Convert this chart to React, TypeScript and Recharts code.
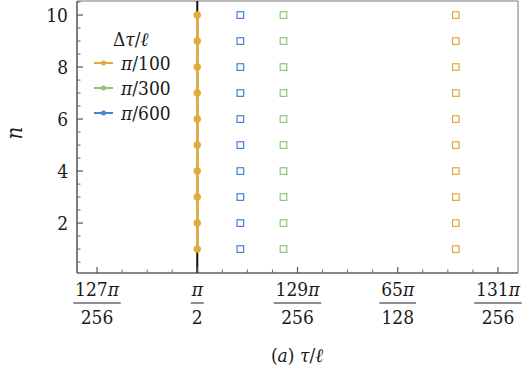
import React from 'react'
import { ScatterChart, Scatter, XAxis, YAxis, ReferenceArea } from 'recharts'

// x values are tau/l in units of pi/256
const nValues = [1, 2, 3, 4, 5, 6, 7, 8, 9, 10]
const tauExact = [128, 128, 128, 128, 128, 128, 128, 128, 128, 128]
const tauBlue = [128.43, 128.43, 128.43, 128.43, 128.43, 128.43, 128.43, 128.43, 128.43, 128.43]
const tauGreen = [128.86, 128.86, 128.86, 128.86, 128.86, 128.86, 128.86, 128.86, 128.86, 128.86]
const tauOrange = [130.58, 130.58, 130.58, 130.58, 130.58, 130.58, 130.58, 130.58, 130.58, 130.58]

const xMajor = [127, 128, 129, 130, 131]
const xMinor = [127.25, 127.5, 127.75, 128.25, 128.5, 128.75, 129.25, 129.5, 129.75, 130.25, 130.5, 130.75]
const xNumerators = ['127', '', '129', '65', '131']
const xDenominators = ['256', '2', '256', '128', '256']
const yMajor = [2, 4, 6, 8, 10]
const yMinor = [0.5, 1, 1.5, 2.5, 3, 3.5, 4.5, 5, 5.5, 6.5, 7, 7.5, 8.5, 9, 9.5, 10.5]

const legendItems = [
  { label: '100', color: '#E2AA3B' },
  { label: '300', color: '#8CC47A' },
  { label: '600', color: '#4A80D2' },
]

const X_DOMAIN = [126.8, 131.2]
const Y_DOMAIN = [0.08, 10.54]

const ORANGE = '#E2AA3B'
const GREEN = '#8CC47A'
const BLUE = '#4A80D2'
const txt: React.CSSProperties = { fontFamily: "'DejaVu Serif Condensed', 'DejaVu Serif', serif", fontSize: 19, fill: '#1a1a1a' }

const exactData = nValues.map((n, i) => ({ x: tauExact[i], y: n }))
const blueData = nValues.map((n, i) => ({ x: tauBlue[i], y: n }))
const greenData = nValues.map((n, i) => ({ x: tauGreen[i], y: n }))
const orangeData = nValues.map((n, i) => ({ x: tauOrange[i], y: n }))
const markerLine = [{ x: 128, y: Y_DOMAIN[0] }, { x: 128, y: Y_DOMAIN[1] }]

const square = (color: string) => (props: any) => (
  <rect x={props.cx - 3.3} y={props.cy - 3.3} width={6.6} height={6.6} fill="none" stroke={color} strokeWidth={1.2} />
)

const XTick = (props: any) => {
  const { x, y, payload } = props
  const idx = xMajor.indexOf(payload.value)
  if (idx < 0) return <line x1={x} x2={x} y1={y} y2={y - 3.5} stroke="#666" strokeWidth={1} />
  const num = xNumerators[idx]
  const den = xDenominators[idx]
  const numW = num.length * 10.8 + 11
  const denW = den.length * 10.8
  const m = Math.max(numW, denW)
  const w = m + (m > 12 ? 4 : 2)
  return (
    <g>
      <line x1={x} x2={x} y1={y} y2={y - 6} stroke="#555" strokeWidth={1.2} />
      <text x={x} y={y + 23} textAnchor="middle" style={txt}>
        {num}<tspan fontStyle="italic">π</tspan>
      </text>
      <line x1={x - w / 2} x2={x + w / 2} y1={y + 30} y2={y + 30} stroke="#1a1a1a" strokeWidth={1} />
      <text x={x} y={y + 51} textAnchor="middle" style={txt}>{den}</text>
    </g>
  )
}

const YTick = (props: any) => {
  const { x, y, payload } = props
  if (yMajor.indexOf(payload.value) < 0) return <line x1={x} x2={x + 3.5} y1={y} y2={y} stroke="#666" strokeWidth={1} />
  return (
    <g>
      <line x1={x} x2={x + 6} y1={y} y2={y} stroke="#555" strokeWidth={1.2} />
      <text x={x - 9} y={y + 7} textAnchor="end" style={txt}>{payload.value}</text>
    </g>
  )
}

const App = () => {
  return (
    <div style={{ position: 'absolute', left: 0, top: 0, width: 532, height: 376 }}>
      <ScatterChart width={532} height={376} margin={{ top: 1, right: 14, bottom: 0, left: 0 }}>
        <XAxis type="number" dataKey="x" domain={X_DOMAIN} allowDataOverflow
          ticks={[...xMajor, ...xMinor]} interval={0} tick={<XTick />} tickLine={false}
          tickSize={0} tickMargin={0} height={103} axisLine={{ stroke: '#555', strokeWidth: 1.2 }} />
        <YAxis type="number" dataKey="y" domain={Y_DOMAIN} allowDataOverflow
          ticks={[...yMajor, ...yMinor]} interval={0} tick={<YTick />} tickLine={false}
          tickSize={0} tickMargin={0} width={77} axisLine={{ stroke: '#555', strokeWidth: 1.2 }} />
        <ReferenceArea x1={X_DOMAIN[0]} x2={X_DOMAIN[1]} y1={Y_DOMAIN[0]} y2={Y_DOMAIN[1]}
          fill="none" stroke="#777" strokeWidth={1} ifOverflow="visible" />
        <Scatter data={markerLine} line={{ stroke: '#111', strokeWidth: 2 }} shape={() => null} isAnimationActive={false} />
        <Scatter data={blueData} shape={square(BLUE)} isAnimationActive={false} />
        <Scatter data={greenData} shape={square(GREEN)} isAnimationActive={false} />
        <Scatter data={orangeData} shape={square(ORANGE)} isAnimationActive={false} />
        <Scatter data={exactData} fill={ORANGE} line={{ stroke: ORANGE, strokeWidth: 2.5 }}
          shape={(p: any) => <circle cx={p.cx} cy={p.cy} r={3.7} fill={ORANGE} />} isAnimationActive={false} />
      </ScatterChart>
      <svg width={532} height={376} style={{ position: 'absolute', left: 0, top: 0, pointerEvents: 'none' }}>
        <text x={22} y={133} transform="rotate(-90 22 133)" textAnchor="middle" style={{ ...txt, fontSize: 22 }} fontStyle="italic">n</text>
        <text x={297} y={362} textAnchor="middle" style={txt}>
          (<tspan fontStyle="italic">a</tspan>) <tspan fontStyle="italic">τ</tspan>/<tspan fontStyle="italic">ℓ</tspan>
        </text>
        <text x={113} y={46} style={txt}>
          Δ<tspan fontStyle="italic">τ</tspan>/<tspan fontStyle="italic">ℓ</tspan>
        </text>
        {legendItems.map((item, i) => {
          const cy = 63 + i * 25
          return (
            <g key={item.label}>
              <line x1={94} x2={113} y1={cy} y2={cy} stroke={item.color} strokeWidth={2} />
              <circle cx={103.5} cy={cy} r={2.5} fill={item.color} />
              <text x={121} y={cy + 7} style={txt}>
                <tspan fontStyle="italic">π</tspan>/{item.label}
              </text>
            </g>
          )
        })}
      </svg>
    </div>
  )
}

export default App
